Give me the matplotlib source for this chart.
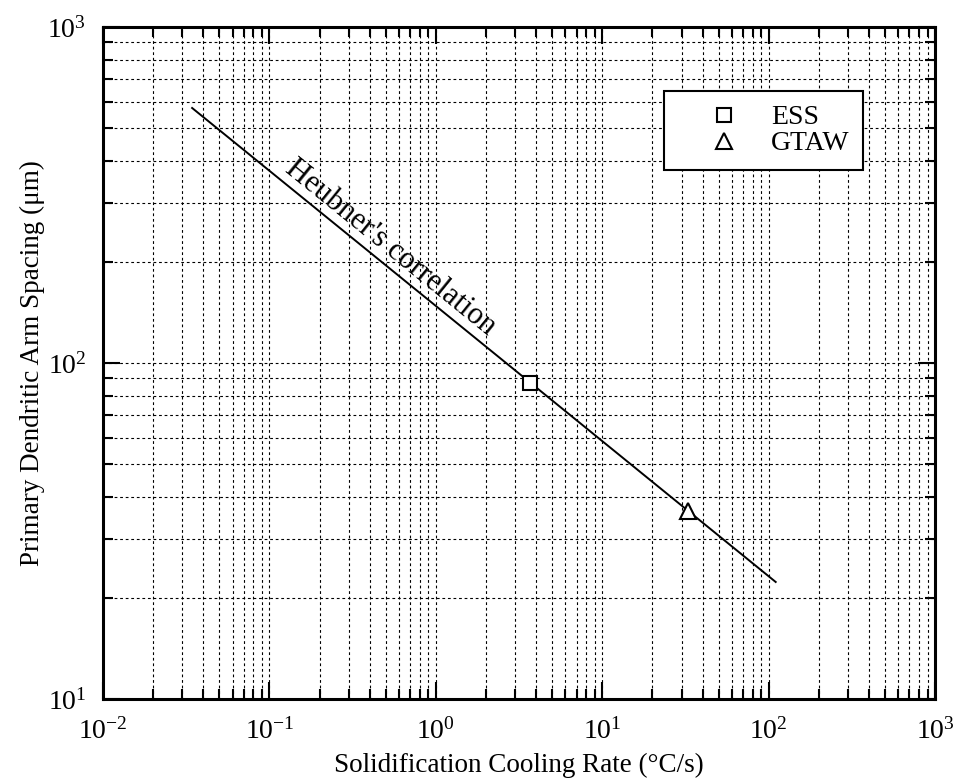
import numpy as np
import matplotlib
matplotlib.use("Agg")
import matplotlib.pyplot as plt

plt.rcParams['font.family'] = ['Liberation Serif', 'DejaVu Serif']
plt.rcParams['mathtext.fontset'] = 'custom'
plt.rcParams['mathtext.rm'] = 'Liberation Serif'
plt.rcParams['mathtext.it'] = 'Liberation Serif:italic'

# Heubner's correlation line (end points)
corr_rate = [0.0343, 110.0]
corr_spacing = [574.0, 22.3]

# measured points
ess_rate = [3.66]
ess_spacing = [87.2]
gtaw_rate = [32.8]
gtaw_spacing = [36.3]

fig = plt.figure(figsize=(9.61, 7.84), dpi=100)
ax = fig.add_axes([0.1072, 0.1084, 0.8660, 0.8572])

ax.set_xscale('log')
ax.set_yscale('log')
ax.set_xlim(1e-2, 1e3)
ax.set_ylim(1e1, 1e3)

ax.grid(True, which='both', color='black', linestyle=(0, (2.5, 2.5)), linewidth=0.8)
ax.set_axisbelow(True)

ax.plot(corr_rate, corr_spacing, color='black', lw=1.4)
ax.plot(ess_rate, ess_spacing, linestyle='none', marker='s', ms=10.5,
        mfc='white', mec='black', mew=1.5, label='ESS')
ax.plot(gtaw_rate, gtaw_spacing, linestyle='none', marker='^', ms=11,
        mfc='white', mec='black', mew=1.5, label='GTAW')

ax.text(0.531, 221, "Heubner's correlation", rotation=-39, fontsize=22,
        ha='center', va='center')

leg = ax.legend(loc='upper right', bbox_to_anchor=(0.9135, 0.9048),
                borderaxespad=0, fontsize=20, fancybox=False, framealpha=1,
                edgecolor='black', handletextpad=0.05, handlelength=3.3,
                borderpad=0.5, labelspacing=0.02, numpoints=1)
leg.get_frame().set_linewidth(1.5)

for s in ax.spines.values():
    s.set_linewidth(2.2)

ax.tick_params(which='both', direction='in', top=True, right=True, width=1.5)
ax.tick_params(which='major', length=12, labelsize=20)
ax.tick_params(axis='x', which='major', pad=14)
ax.tick_params(axis='y', which='major', pad=12)
ax.tick_params(which='minor', length=7)

ax.set_xlabel('Solidification Cooling Rate (°C/s)', fontsize=19.5, labelpad=6)
ax.set_ylabel('Primary Dendritic Arm Spacing (μm)', fontsize=19.5, labelpad=2)

fig.savefig('out.png', dpi=100)
